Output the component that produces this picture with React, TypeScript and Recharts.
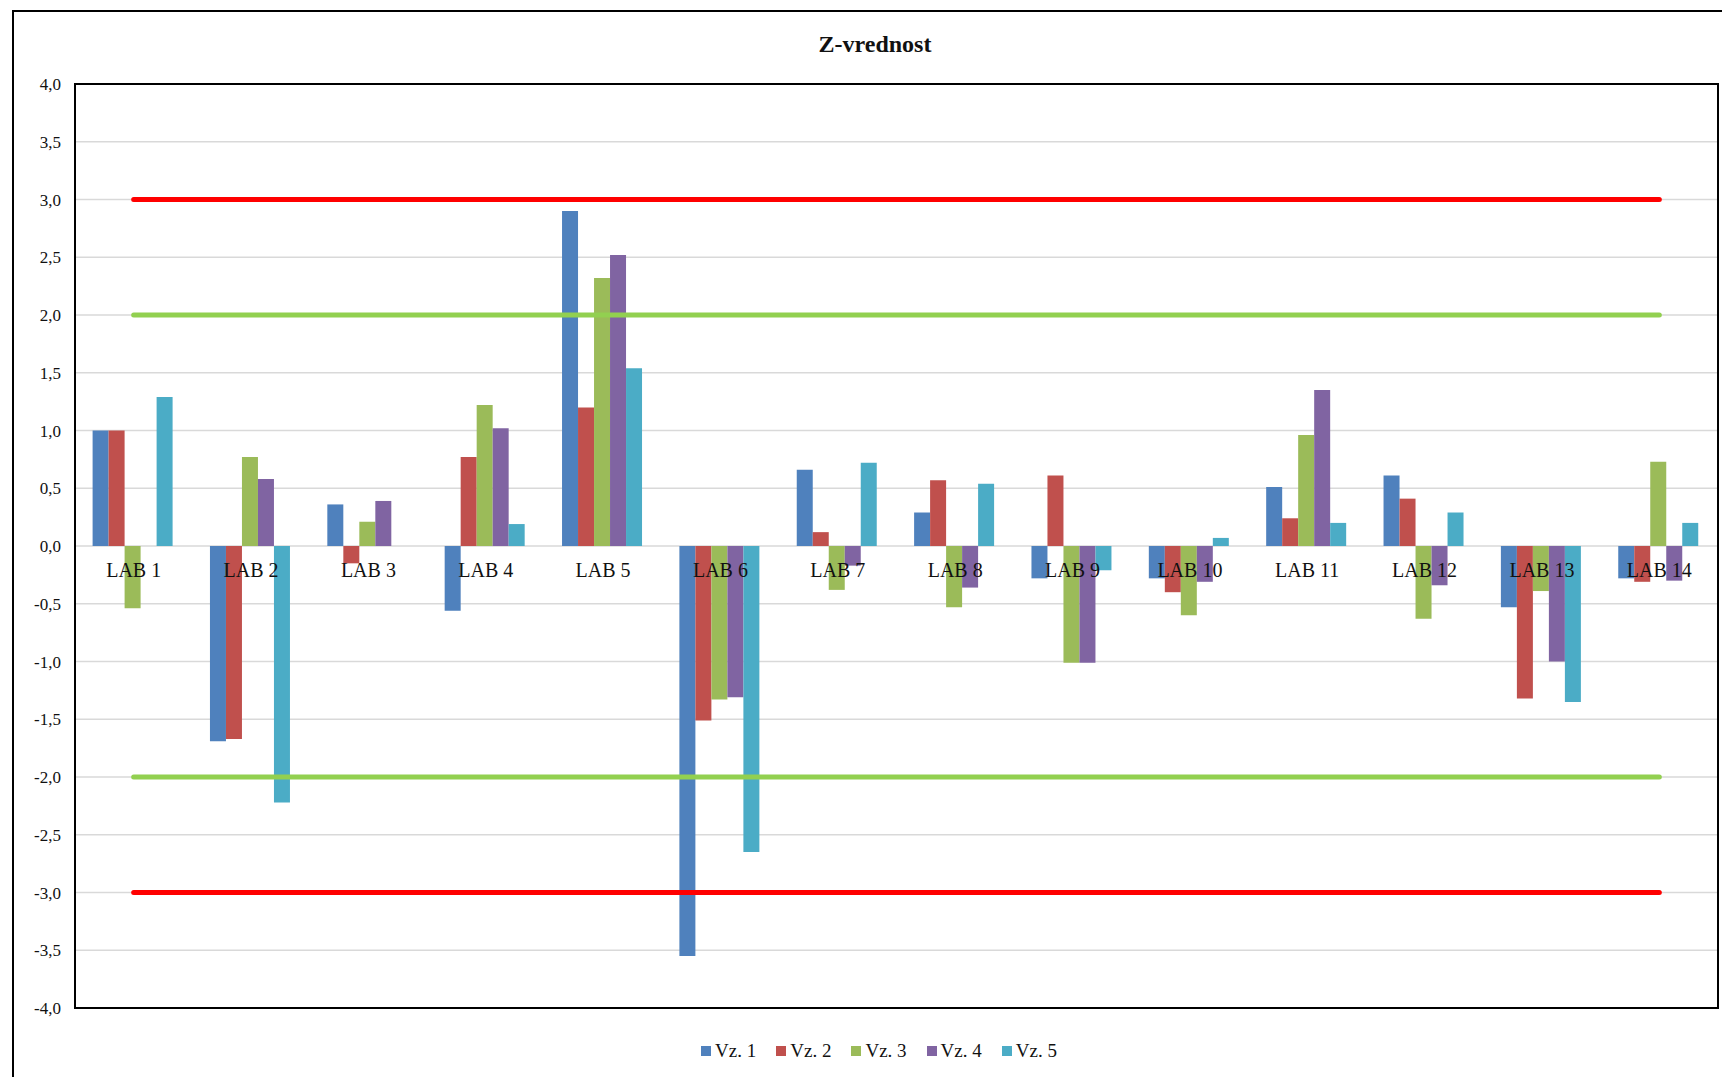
import {
  ComposedChart,
  Bar,
  Line,
  XAxis,
  YAxis,
  CartesianGrid,
  ReferenceLine,
  ReferenceArea,
  Legend,
  LabelList,
} from 'recharts'

const labs = [
  'LAB 1', 'LAB 2', 'LAB 3', 'LAB 4', 'LAB 5', 'LAB 6', 'LAB 7',
  'LAB 8', 'LAB 9', 'LAB 10', 'LAB 11', 'LAB 12', 'LAB 13', 'LAB 14',
]

const vz1 = [1.0, -1.69, 0.36, -0.56, 2.9, -3.55, 0.66, 0.29, -0.28, -0.28, 0.51, 0.61, -0.53, -0.28]
const vz2 = [1.0, -1.67, -0.15, 0.77, 1.2, -1.51, 0.12, 0.57, 0.61, -0.4, 0.24, 0.41, -1.32, -0.31]
const vz3 = [-0.54, 0.77, 0.21, 1.22, 2.32, -1.33, -0.38, -0.53, -1.01, -0.6, 0.96, -0.63, -0.39, 0.73]
const vz4 = [null, 0.58, 0.39, 1.02, 2.52, -1.31, -0.17, -0.36, -1.01, -0.31, 1.35, -0.34, -1.0, -0.3]
const vz5 = [1.29, -2.22, null, 0.19, 1.54, -2.65, 0.72, 0.54, -0.21, 0.07, 0.2, 0.29, -1.35, 0.2]

const yTicks = [-4, -3.5, -3, -2.5, -2, -1.5, -1, -0.5, 0, 0.5, 1, 1.5, 2, 2.5, 3, 3.5, 4]

// +-3 action limits (red), +-2 warning limits (green)
const actionLimits = [3, -3]
const warningLimits = [2, -2]

const series = [
  { key: 'vz1', name: 'Vz. 1', color: '#4f81bd' },
  { key: 'vz2', name: 'Vz. 2', color: '#c0504d' },
  { key: 'vz3', name: 'Vz. 3', color: '#9bbb59' },
  { key: 'vz4', name: 'Vz. 4', color: '#8064a2' },
  { key: 'vz5', name: 'Vz. 5', color: '#4bacc6' },
]

const data = labs.map((name, i) => ({
  name,
  vz1: vz1[i],
  vz2: vz2[i],
  vz3: vz3[i],
  vz4: vz4[i],
  vz5: vz5[i],
}))

const font = '"Liberation Serif", "Times New Roman", serif'

function YTick({ x, y, payload }: any) {
  return (
    <text x={x} y={y} dy={6} textAnchor="end" fill="#111" fontSize={17} fontFamily={font}>
      {Number(payload.value).toFixed(1).replace('.', ',')}
    </text>
  )
}

function LegendContent({ payload }: any) {
  return (
    <div
      style={{
        display: 'flex', justifyContent: 'center', position: 'relative', left: 45,
        fontFamily: font, fontSize: 19, color: '#111', lineHeight: '22px',
      }}
    >
      {(payload || []).map((p: any) => (
        <span key={p.value} style={{ display: 'inline-flex', alignItems: 'center', marginRight: 20 }}>
          <span style={{ width: 10, height: 10, background: p.color, marginRight: 4, display: 'inline-block' }} />
          {p.value}
        </span>
      ))}
    </div>
  )
}

const limitSegment = (v: number) => [
  { x: labs[0], y: v },
  { x: labs[labs.length - 1], y: v },
]

export default function App() {
  return (
    <div
      style={{
        position: 'absolute', left: 0, top: 0, width: 1722, height: 1077,
        overflow: 'hidden', background: '#fff', fontFamily: font,
      }}
    >
      <div style={{ position: 'absolute', left: 12, top: 10, width: 1760, height: 1120, border: '2px solid #000' }} />
      <div
        style={{
          position: 'absolute', left: 13, top: 30, width: 1724, textAlign: 'center',
          fontWeight: 'bold', fontSize: 24, lineHeight: '28px', color: '#111',
        }}
      >
        Z-vrednost
      </div>
      <div style={{ position: 'absolute', left: 0, top: 0 }}>
        <ComposedChart
          width={1722}
          height={1077}
          data={data}
          margin={{ top: 84, right: 4, bottom: 69, left: 0 }}
          barCategoryGap="15%"
          barGap={0}
          style={{ fontFamily: font }}
        >
          <CartesianGrid vertical={false} stroke="#d9d9d9" strokeWidth={1.5} />
          <XAxis dataKey="name" hide />
          <YAxis
            domain={[-4, 4]}
            ticks={yTicks}
            width={75}
            axisLine={false}
            tickLine={false}
            tickSize={0}
            tickMargin={14}
            interval={0}
            tick={<YTick />}
          />
          {series.map((s) => (
            <Bar key={s.key} dataKey={s.key} name={s.name} fill={s.color} isAnimationActive={false} />
          ))}
          {actionLimits.map((v) => (
            <ReferenceLine key={'a' + v} segment={limitSegment(v)} stroke="#ff0000" strokeWidth={5} strokeLinecap="round" />
          ))}
          {warningLimits.map((v) => (
            <ReferenceLine key={'w' + v} segment={limitSegment(v)} stroke="#92d050" strokeWidth={5} strokeLinecap="round" />
          ))}
          {/* category labels sit on the zero line, like Excel's "next to axis" labels */}
          <Line
            dataKey={() => 0}
            stroke="none"
            dot={false}
            activeDot={false}
            legendType="none"
            isAnimationActive={false}
          >
            <LabelList dataKey="name" position="bottom" offset={17} fill="#111" fontSize={20} fontFamily={font} />
          </Line>
          <ReferenceArea y1={-4} y2={4} fill="none" stroke="#000" strokeWidth={2} ifOverflow="visible" />
          <Legend
            verticalAlign="middle"
            align="center"
            layout="horizontal"
            content={<LegendContent />}
            wrapperStyle={{ top: 1040, width: 1722 }}
          />
        </ComposedChart>
      </div>
    </div>
  )
}
